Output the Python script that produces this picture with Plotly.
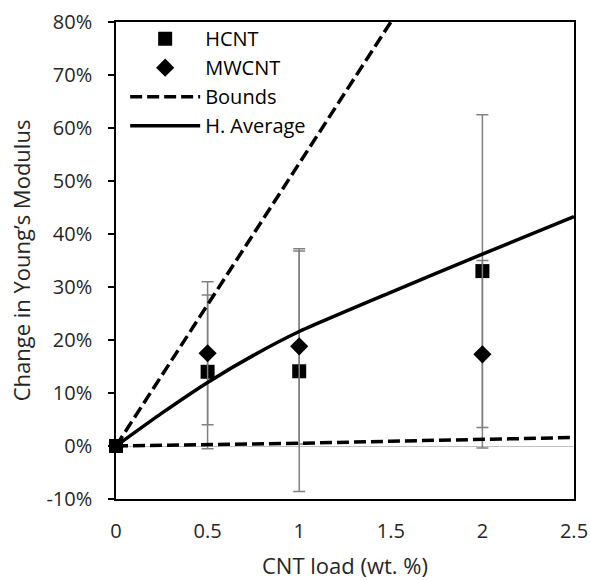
import plotly.graph_objects as go

# ---- data (values in %) ----
hcnt_x = [0, 0.5, 1, 2]
hcnt_y = [0, 14.0, 14.1, 33.0]
hcnt_err = [0, 14.5, 22.7, 29.5]

mwcnt_x = [0.5, 1, 2]
mwcnt_y = [17.5, 18.8, 17.3]
mwcnt_err = [13.5, 18.4, 17.7]

bound_x = [0, 0.5, 1, 1.5, 2, 2.5]
upper_bound = [0, 26.7, 53.3, 80.0, 106.7, 133.3]
lower_bound = [0, 0.2, 0.5, 0.9, 1.3, 1.6]

havg_x = [0, 0.25, 0.5, 0.75, 1, 1.5, 2, 2.5]
havg_y = [0, 6.2, 12.0, 17.1, 21.6, 29.0, 36.2, 43.3]

x_ticks = [0, 0.5, 1, 1.5, 2, 2.5]
x_ticklabels = ["0", "0.5", "1", "1.5", "2", "2.5"]
y_ticks = [-10, 0, 10, 20, 30, 40, 50, 60, 70, 80]
y_ticklabels = ["-10%", "0%", "10%", "20%", "30%", "40%", "50%", "60%", "70%", "80%"]

FONT = "Open Sans"
TXT = "#262626"

fig = go.Figure()

fig.add_trace(go.Scatter(
    x=hcnt_x, y=hcnt_y, mode="markers", name="HCNT",
    marker=dict(symbol="square", size=14, color="black"),
    error_y=dict(type="data", array=hcnt_err, visible=True,
                 color="#808080", thickness=1.5, width=6),
    cliponaxis=False, legendrank=1,
))
fig.add_trace(go.Scatter(
    x=mwcnt_x, y=mwcnt_y, mode="markers", name="MWCNT",
    marker=dict(symbol="diamond", size=14, color="black"),
    error_y=dict(type="data", array=mwcnt_err, visible=True,
                 color="#808080", thickness=1.5, width=6),
    cliponaxis=False, legendrank=2,
))
fig.add_trace(go.Scatter(
    x=bound_x, y=upper_bound, mode="lines", name="Bounds",
    line=dict(color="black", width=3.5, dash="12px,5px"),
    legendgroup="bounds", legendrank=3,
))
fig.add_trace(go.Scatter(
    x=bound_x, y=lower_bound, mode="lines", name="Bounds",
    line=dict(color="black", width=3.5, dash="12px,5px"),
    legendgroup="bounds", showlegend=False,
))
fig.add_trace(go.Scatter(
    x=havg_x, y=havg_y, mode="lines", name="H. Average",
    line=dict(color="black", width=3.5, shape="spline", smoothing=0.6),
    legendrank=4,
))

fig.update_layout(
    width=590, height=580,
    margin=dict(l=116, r=16, t=22, b=81),
    paper_bgcolor="white", plot_bgcolor="white",
    font=dict(family=FONT, size=20, color=TXT),
    showlegend=True,
    legend=dict(x=0.02, y=1.006, xanchor="left", yanchor="top",
                bgcolor="rgba(0,0,0,0)", font=dict(size=20, color="black"),
                itemwidth=70, tracegroupgap=0),
    xaxis=dict(range=[0, 2.5], tickvals=x_ticks, ticktext=x_ticklabels,
               showline=True, mirror=True, linecolor="black", linewidth=1.5,
               ticks="", showgrid=False, zeroline=False, automargin=False,
               ticklabelstandoff=13,
               title=dict(text="CNT load (wt. %)", font=dict(size=22, color=TXT),
                          standoff=22)),
    yaxis=dict(range=[-10, 80], tickvals=y_ticks, ticktext=y_ticklabels,
               showline=True, mirror=True, linecolor="black", linewidth=1.5,
               ticks="outside", ticklen=6, tickcolor="black", tickwidth=1.5,
               showgrid=False, zeroline=True, zerolinecolor="#c0c0c0", zerolinewidth=1,
               ticklabelstandoff=12, automargin=False,
               title=dict(text="Change in Young’s Modulus", font=dict(size=22, color=TXT),
                          standoff=10)),
)

fig.write_html("out.html")
